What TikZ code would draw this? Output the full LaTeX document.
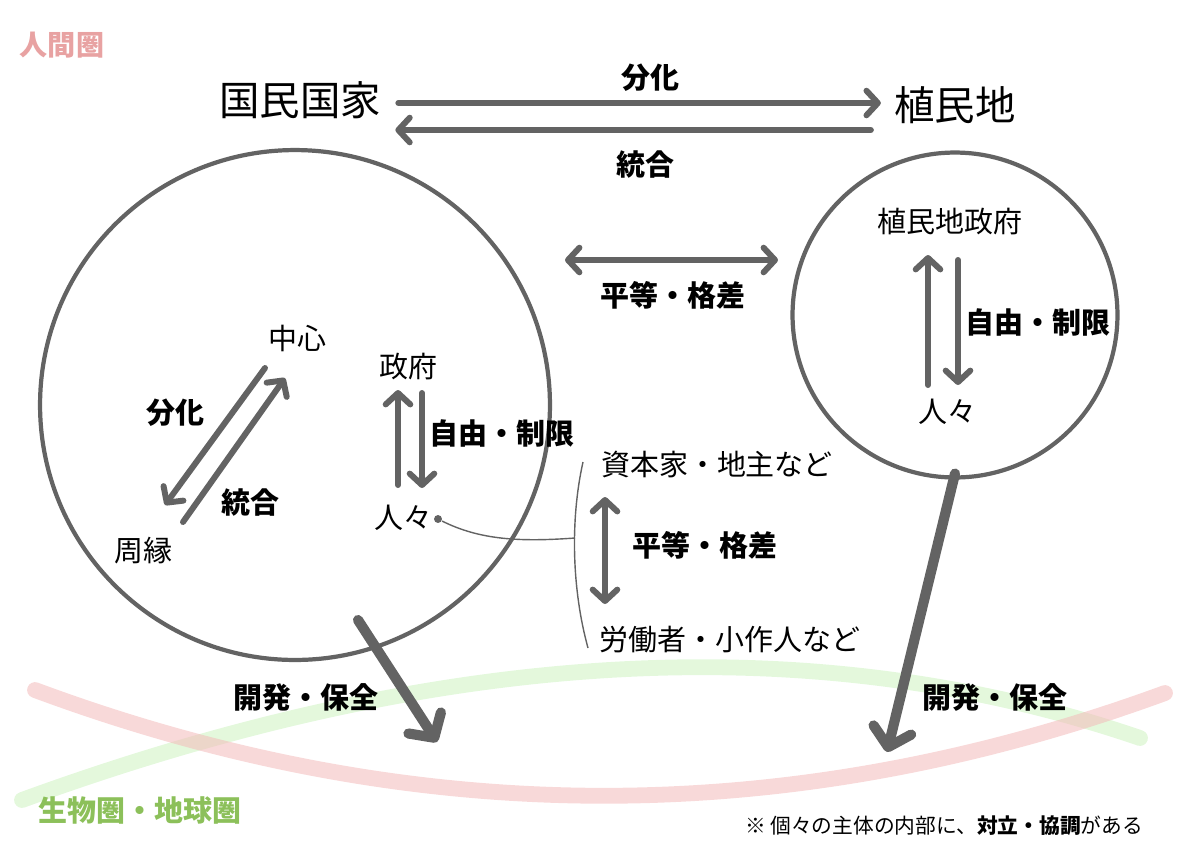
\documentclass[tikz,border=0pt]{standalone}
\usepackage{fontspec}
\setmainfont{Noto Sans CJK JP}
\usepackage{xcolor}
\usetikzlibrary{arrows.meta,calc}
\definecolor{flowgray}{HTML}{636363}
\definecolor{humanpink}{HTML}{E8A2A2}
\definecolor{bandpink}{HTML}{F3B9B9}
\definecolor{bandgreen}{HTML}{CDF3C0}
\definecolor{earthgreen}{HTML}{8CC05A}
\tikzset{every picture/.style={line width=0.75pt}}
\tikzset{
  ring/.style={circle,draw=flowgray,line width=2.4pt,inner sep=0pt},
  word/.style={font=\fontsize{16.5}{20}\selectfont},
  bigword/.style={font=\fontsize{23}{27}\selectfont},
  tag/.style={font=\bfseries\fontsize{16.5}{20}\selectfont},
  flow/.style={draw=flowgray,line width=3.4pt,line cap=round,
    -{Straight Barb[round,length=6.5pt,width=14pt]}},
  twoway/.style={draw=flowgray,line width=3.4pt,line cap=round,
    {Straight Barb[round,length=6.5pt,width=14pt]}-{Straight Barb[round,length=6.5pt,width=14pt]}},
  bigflow/.style={draw=flowgray,line width=5.8pt,line cap=round,
    -{Straight Barb[round,length=10pt,width=22pt]}},
  band/.style={line width=9pt,line cap=round,opacity=0.55}
}
\begin{document}
\begin{tikzpicture}[x=0.02cm,y=-0.02cm]
\useasboundingbox (0,0) rectangle (1200,850);
% spheres
\draw[band,bandgreen] (22,800) .. controls (441,647) and (813,626) .. (1140,738);
\draw[band,bandpink] (35,690) .. controls (412,830) and (788,831) .. (1165,693);
\node[text=humanpink,font=\bfseries\fontsize{16}{19}\selectfont] (human) at (62,45) {人間圏};
\node[text=earthgreen,font=\bfseries\fontsize{16.5}{20}\selectfont] (earth) at (140,810) {生物圏・地球圏};
%
\node[bigword] (state) at (300,100) {国民国家};
\node[bigword] (colony) at (955,105) {植民地};
\draw[flow] ($(state.east |- 0,103)+(11,0)$) -- ($(colony.west |- 0,103)+(-7,0)$);
\draw[flow] ($(colony.west |- 0,130)+(-17,0)$) -- ($(state.east |- 0,130)+(8,0)$);
\node[tag] (split) at (650,78) {分化};
\node[tag] (merge) at (645,165) {統合};
%
\node[ring,minimum size=10.2cm] (nation) at (295,405) {};
\node[ring,minimum size=6.5cm] (colring) at (955,315) {};
%
\node[tag] (gap) at (673,295) {平等・格差};
\draw[twoway] ($(gap)+(-108,-35)$) -- ($(gap)+(105,-35)$);
% inside the nation
\node[word] (core) at (297,338) {中心};
\node[word] (edge) at (143,551) {周縁};
\draw[flow] ($(core)+(-32,30)$) -- ($(edge)+(22,-46)$);
\draw[flow] ($(edge)+(40,-29)$) -- ($(core)+(-12,40)$);
\node[tag] (splitin) at (175,413) {分化};
\node[tag] (mergein) at (250,502) {統合};
%
\node[word] (gov) at (408,367) {政府};
\node[word] (folk) at (403,518) {人々};
\draw[flow] ($(folk)+(-5,-33)$) -- ($(gov)+(-10,23)$);
\draw[flow] ($(gov)+(14,26)$) -- ($(folk)+(19,-30)$);
\node[tag] (free) at (502,433) {自由・制限};
% inside the colony
\node[word] (cgov) at (950,222) {植民地政府};
\node[word] (cfolk) at (947,412) {人々};
\draw[flow] ($(cfolk)+(-19,-27)$) -- ($(cgov)+(-22,33)$);
\draw[flow] ($(cgov)+(8,38)$) -- ($(cfolk)+(11,-27)$);
\node[tag] (cfree) at (1038,322) {自由・制限};
% classes
\node[word] (capital) at (717,465) {資本家・地主など};
\node[word] (labor) at (730,640) {労働者・小作人など};
\draw[twoway] ($(capital)+(-112,32)$) -- ($(labor)+(-125,-36)$);
\node[tag] (gapin) at (705,545) {平等・格差};
%
\node[circle,fill=flowgray,inner sep=1.6pt] (dot) at (438,519) {};
\coordinate (brtop) at (583,462);
\coordinate (brbot) at (588,648);
\coordinate (brmid) at (575,538);
\draw[flowgray,line width=0.8pt] (brtop) .. controls (570,520) and (572,590) .. (brbot);
\draw[flowgray,line width=0.8pt] (dot) .. controls (480,540) and (520,542) .. (brmid);
% toward the earth
\coordinate (sinkL) at (437,742);
\coordinate (sinkR) at (887,752);
\draw[bigflow] ($(nation)+(63,215)$) -- (sinkL);
\draw[bigflow] ($(colring.south)+(0,-6)$) -- (sinkR);
\node[tag] (devL) at (306,697) {開発・保全};
\node[tag] (devR) at (995,697) {開発・保全};
%
\node[font=\fontsize{11.8}{14}\selectfont] (note) at (944,826) {※ 個々の主体の内部に、\textbf{対立・協調}がある};
\end{tikzpicture}
\end{document}
